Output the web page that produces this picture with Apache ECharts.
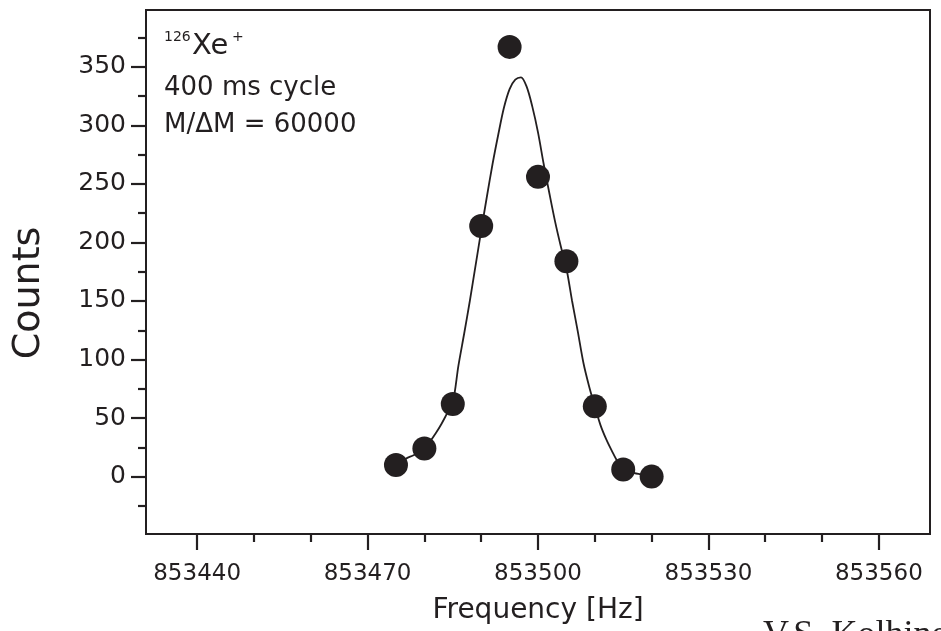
<!DOCTYPE html>
<html><head><meta charset="utf-8">
<script src="https://cdn.jsdelivr.net/npm/echarts@6/dist/echarts.min.js"></script>
<style>html,body{margin:0;padding:0;background:#fff}#c{width:941px;height:631px}</style>
</head><body><div id="c"></div>
<script>
// measured data points
const freqs = [853475, 853480, 853485, 853490, 853495, 853500, 853505, 853510, 853515, 853520];
const counts = [10, 24, 62, 214, 367, 256, 184, 60, 6, 0];
// fitted curve at 1 Hz steps
const fitFreqs = [853475, 853476, 853477, 853478, 853479, 853480, 853481, 853482, 853483, 853484,
  853485, 853486, 853487, 853488, 853489, 853490, 853491, 853492, 853493, 853494,
  853495, 853496, 853497, 853498, 853499, 853500, 853501, 853502, 853503, 853504,
  853505, 853506, 853507, 853508, 853509, 853510, 853511, 853512, 853513, 853514,
  853515, 853516, 853517, 853518, 853519, 853520];
const fitCounts = [10, 13, 16, 18, 21, 24, 30, 37, 45, 54,
  63, 95, 122, 150, 180, 210, 239, 267, 292, 315,
  331, 339, 341, 333, 316, 294, 267, 242, 218, 197,
  178, 150, 124, 97, 77, 60, 44, 32, 22, 13,
  8, 5, 3, 2, 1, 0];
const xMajorTicks = [853440, 853470, 853500, 853530, 853560];
const xMinorTicks = [853450, 853460, 853480, 853490, 853510, 853520, 853540, 853550];
const yMajorTicks = [0, 50, 100, 150, 200, 250, 300, 350];
const yMinorTicks = [-25, 25, 75, 125, 175, 225, 275, 325, 375];

const INK = '#231f20';
const FONT = 'DejaVu Sans';
const X_MIN = 853431, X_MAX = 853569, Y_MIN = -49, Y_MAX = 398.5;

const chart = echarts.init(document.getElementById('c'), null, {renderer: 'canvas'});
const baseX = {type: 'value', min: X_MIN, max: X_MAX, position: 'bottom', gridIndex: 0,
  splitLine: {show: false}, axisLine: {show: false, onZero: false}};
const baseY = {type: 'value', min: Y_MIN, max: Y_MAX, position: 'left', gridIndex: 0,
  splitLine: {show: false}, axisLine: {show: false, onZero: false}};
chart.setOption({
  animation: false,
  backgroundColor: '#fff',
  grid: {left: 146, top: 10, right: 11, bottom: 97, show: true, borderColor: INK, borderWidth: 2, containLabel: false},
  xAxis: [
    Object.assign({}, baseX, {
      axisTick: {show: true, customValues: xMajorTicks, length: 16, lineStyle: {color: INK, width: 2.2}},
      axisLabel: {show: true, customValues: xMajorTicks, color: INK, fontFamily: FONT, fontSize: 23, margin: 29,
        formatter: v => String(v)}
    }),
    Object.assign({}, baseX, {
      axisTick: {show: true, customValues: xMinorTicks, length: 8, lineStyle: {color: INK, width: 2.2}},
      axisLabel: {show: false}
    })
  ],
  yAxis: [
    Object.assign({}, baseY, {
      axisTick: {show: true, customValues: yMajorTicks, length: 15, lineStyle: {color: INK, width: 2.2}},
      axisLabel: {show: true, customValues: yMajorTicks, color: INK, fontFamily: FONT, fontSize: 25, margin: 20}
    }),
    Object.assign({}, baseY, {
      axisTick: {show: true, customValues: yMinorTicks, length: 8, lineStyle: {color: INK, width: 2.2}},
      axisLabel: {show: false}
    })
  ],
  series: [
    {type: 'line', xAxisIndex: 0, yAxisIndex: 0, data: fitFreqs.map((f, i) => [f, fitCounts[i]]),
      smooth: 0.3, showSymbol: false, symbol: 'none', lineStyle: {color: INK, width: 1.8}, z: 2, silent: true},
    {type: 'scatter', xAxisIndex: 0, yAxisIndex: 0, data: freqs.map((f, i) => [f, counts[i]]),
      symbol: 'circle', symbolSize: 24, itemStyle: {color: INK, opacity: 1}, z: 3, silent: true}
  ],
  graphic: [
    {type: 'text', left: 164, top: 30, style: {text: '126', font: '14px "DejaVu Sans"', fill: INK}},
    {type: 'text', left: 192, top: 32, style: {text: 'Xe', font: '29px "DejaVu Sans"', fill: INK}},
    {type: 'text', left: 232, top: 30, style: {text: '+', font: '14px "DejaVu Sans"', fill: INK}},
    {type: 'text', left: 164, top: 75, style: {text: '400 ms cycle', font: '26px "DejaVu Sans"', fill: INK}},
    {type: 'text', left: 164, top: 112, style: {text: 'M/ΔM = 60000', font: '26px "DejaVu Sans"', fill: INK}},
    {type: 'text', x: 29, y: 293, rotation: Math.PI / 2,
      style: {text: 'Counts', font: '38px "DejaVu Sans"', fill: INK, align: 'center', verticalAlign: 'middle'}},
    {type: 'text', x: 538, y: 611,
      style: {text: 'Frequency [Hz]', font: '28px "DejaVu Sans"', fill: INK, align: 'center', verticalAlign: 'middle'}},
    {type: 'text', x: 763, y: 618,
      style: {text: 'V.S. Kolhinen', font: '36px "Liberation Serif"', fill: INK, align: 'left', verticalAlign: 'top'}}
  ]
});
</script></body></html>
